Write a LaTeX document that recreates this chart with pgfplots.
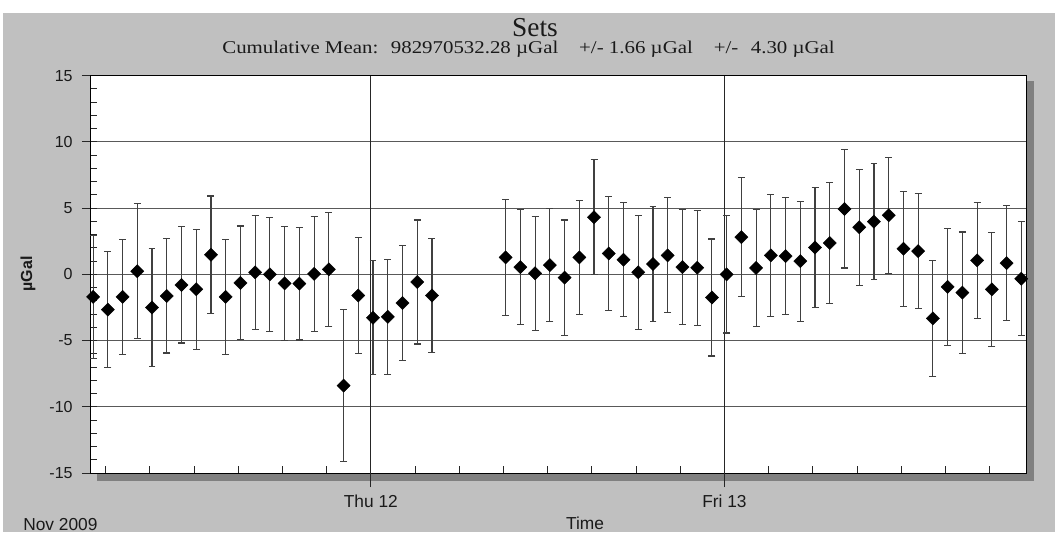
\documentclass[border=0pt]{standalone}
\usepackage{fontspec}
\setmainfont{Liberation Sans}
\newfontfamily\serif{Liberation Serif}
\usepackage{pgfplots}
\pgfplotsset{compat=1.18}
\usepackage{pgfplotstable}
\definecolor{bg}{HTML}{C0C0C0}
\definecolor{shadow}{HTML}{808080}
\definecolor{txt}{HTML}{1A1A1A}

\pgfplotstableread{
t y e
-18.85 -1.70 4.64
-17.85 -2.66 4.39
-16.85 -1.70 4.32
-15.85 0.23 5.10
-14.85 -2.51 4.44
-13.85 -1.63 4.31
-12.85 -0.80 4.38
-11.85 -1.13 4.54
-10.85 1.48 4.43
-9.85 -1.70 4.32
-8.85 -0.65 4.30
-7.85 0.15 4.31
-6.85 0.00 4.30
-5.85 -0.68 4.30
-4.85 -0.70 4.26
-3.85 0.03 4.32
-2.85 0.38 4.31
-1.85 -8.40 5.73
-0.85 -1.60 4.40
0.15 -3.28 4.31
1.15 -3.21 4.35
2.15 -2.16 4.34
3.15 -0.58 4.68
4.15 -1.60 4.31
9.15 1.28 4.36
10.15 0.55 4.33
11.15 0.08 4.30
12.15 0.70 4.29
13.15 -0.25 4.35
14.15 1.28 4.31
15.15 4.31 4.34
16.15 1.58 4.31
17.15 1.10 4.31
18.15 0.15 4.31
19.15 0.78 4.31
20.15 1.43 4.34
21.15 0.55 4.33
22.15 0.50 4.33
23.15 -1.75 4.42
24.15 0.00 4.43
25.15 2.81 4.47
26.15 0.48 4.41
27.15 1.43 4.63
28.15 1.38 4.42
29.15 1.00 4.53
30.15 2.03 4.55
31.15 2.36 4.59
32.15 4.94 4.46
33.15 3.56 4.37
34.15 3.98 4.36
35.15 4.46 4.39
36.15 1.93 4.33
37.15 1.75 4.35
38.15 -3.33 4.39
39.15 -0.95 4.39
40.15 -1.38 4.58
41.15 1.05 4.39
42.15 -1.13 4.30
43.15 0.85 4.35
44.15 -0.33 4.30
}\data

\begin{document}
\begin{tikzpicture}
\path[use as bounding box] (0,0) rectangle (791.25pt,-399pt);
\fill[bg] (2.25pt,-9.5pt) rectangle (791.25pt,-399pt);
\fill[shadow] (72.75pt,-60.75pt) rectangle (775.5pt,-360.75pt);
\begin{axis}[
  at={(67.5pt,-354.75pt)}, anchor=south west,
  scale only axis, width=702pt, height=298pt,
  xmin=-19.06, xmax=44.47, ymin=-15, ymax=15,
  axis background/.style={fill=white},
  axis line style={black, line width=0.75pt},
  tick align=inside, tick pos=left,
  major tick length=5.25pt, minor tick length=5.25pt,
  tick style={black!85, line width=0.75pt},
  xtick={-18,-15,...,42}, xticklabels={},
  extra x ticks={0,24},
  extra x tick labels={Thu 12, Fri 13},
  extra x tick style={tick align=outside, major tick length=10.5pt,
     grid=major, major grid style={black!85, line width=0.75pt},
     xticklabel style={font=\fontsize{13}{15}\selectfont, text=txt, yshift=-2.5pt}},
  ytick={-15,-10,...,15},
  minor y tick num=4,
  ymajorgrids=true,
  major grid style={black!65, line width=0.75pt},
  yticklabel style={font=\fontsize{12}{14}\selectfont, text=txt, xshift=-9.5pt},
  /pgf/number format/assume math mode=true,
  extra y ticks={-15,-10,...,15},
  extra y tick labels={},
  extra y tick style={tick align=outside, major tick length=6pt, grid=none},
]
\addplot[only marks, mark=square*, mark size=3.5pt,
  mark options={rotate=45, fill=black, draw=black, line width=0.3pt},
  error bars/.cd, y dir=both, y explicit,
  error bar style={line width=0.85pt, black!75},
  error mark=-,
  error mark options={rotate=90, mark size=2.6pt, line width=0.85pt, black!75}]
  table[x=t, y=y, y error=e] {\data};
\end{axis}
\node[anchor=base, inner sep=0pt, font=\serif\fontsize{20.5}{24}\selectfont, text=txt] at (401.25pt,-27pt) {Sets};
\node[anchor=base, inner sep=0pt, xscale=1.16, font=\serif\fontsize{13.5}{15}\selectfont, text=txt] at (396.4pt,-40.1pt)
  {Cumulative Mean:\hspace{0.6em}982970532.28 µGal\hspace{1em}+/- 1.66 µGal\hspace{1em}+/-\hspace{0.6em}4.30 µGal};
\node[anchor=base, inner sep=0pt, font=\fontsize{13}{15}\selectfont, text=txt] at (438.75pt,-396.75pt) {Time};
\node[anchor=base west, font=\fontsize{13}{15}\selectfont, text=txt, inner sep=0pt] at (17.25pt,-397.5pt) {Nov 2009};
\node[rotate=90, inner sep=0pt, font=\bfseries\fontsize{12}{14}\selectfont, text=txt] at (21pt,-205.5pt) {µGal};
\end{tikzpicture}
\end{document}
